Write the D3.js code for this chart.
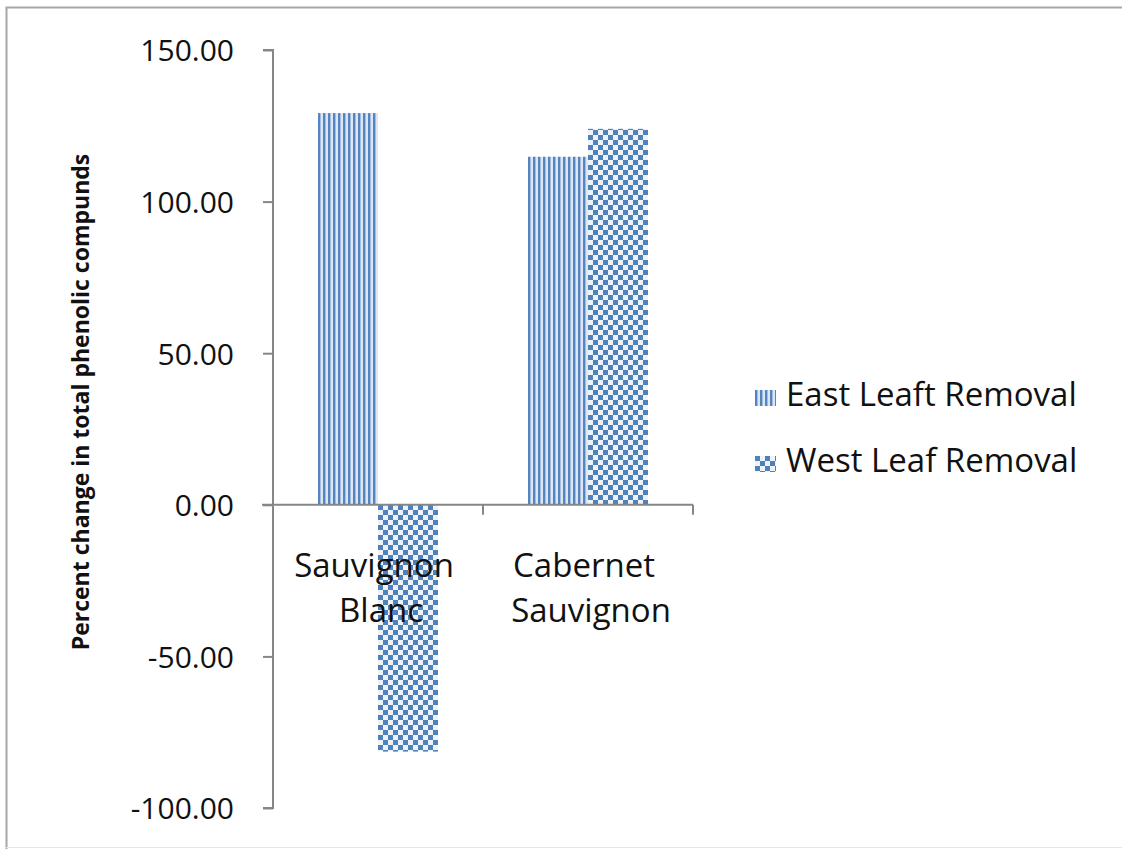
<!DOCTYPE html>
<html>
<head>
<meta charset="utf-8">
<script src="https://cdn.jsdelivr.net/npm/d3@7"></script>
<style>
  body { margin: 0; background: #fff; }
  svg text { font-family: "Open Sans", "Noto Sans", sans-serif; fill: #111; }
</style>
</head>
<body>
<div class="chartVis"></div>
<script>
// data
var categories = [["Sauvignon", "Blanc"], ["Cabernet", "Sauvignon"]];
var catKeys = ["Sauvignon Blanc", "Cabernet Sauvignon"];
var series = ["East Leaft Removal", "West Leaf Removal"];
var eastValues = [129.2, 114.8];
var westValues = [-81.4, 124.0];
var yTicks = [-100, -50, 0, 50, 100, 150];

var width = 1122, height = 849;

var rows = catKeys.map(function (k, i) {
  return { name: k, values: [eastValues[i], westValues[i]] };
});

var svg = d3.select(".chartVis")
  .append("svg")
  .attr("width", width)
  .attr("height", height);

// fill patterns
var defs = svg.append("defs");
var vert = defs.append("pattern")
  .attr("id", "vstripe")
  .attr("patternUnits", "userSpaceOnUse")
  .attr("width", 5).attr("height", 5);
vert.append("rect").attr("width", 5).attr("height", 5).attr("fill", "#dde7f3");
vert.append("rect").attr("x", 0).attr("width", 2).attr("height", 5).attr("fill", "#5585c0");
vert.append("rect").attr("x", 2).attr("width", 1).attr("height", 5).attr("fill", "#a3bde0");

var check = defs.append("pattern")
  .attr("id", "checker")
  .attr("patternUnits", "userSpaceOnUse")
  .attr("width", 10).attr("height", 10);
check.append("rect").attr("width", 10).attr("height", 10).attr("fill", "#eef3f9");
check.append("rect").attr("x", 0).attr("y", 0).attr("width", 5).attr("height", 5).attr("fill", "#4f81bd");
check.append("rect").attr("x", 5).attr("y", 5).attr("width", 5).attr("height", 5).attr("fill", "#4f81bd");

var fills = ["url(#vstripe)", "url(#checker)"];

// outer border (only top and left show, bottom is faint)
svg.append("path")
  .attr("d", "M6.5," + height + "V7.5H" + width)
  .attr("fill", "none")
  .attr("stroke", "#a6a6a6")
  .attr("stroke-width", 2);
svg.append("line")
  .attr("x1", 6).attr("x2", width)
  .attr("y1", 847.5).attr("y2", 847.5)
  .attr("stroke", "#e6e6e6");

var y = d3.scaleLinear()
  .domain([-100, 150])
  .range([808, 50]);

var x0 = d3.scaleBand()
  .domain(catKeys)
  .range([273, 693])
  .padding(0);

var x1 = d3.scaleBand()
  .domain(series)
  .range([0, x0.bandwidth()])
  .paddingInner(0)
  .paddingOuter(0.75);

// bars
var groups = svg.selectAll(".grp")
  .data(rows)
  .enter().append("g")
  .attr("class", "grp")
  .attr("transform", function (d) { return "translate(" + x0(d.name) + ",0)"; });

groups.selectAll("rect")
  .data(function (d) { return d.values.map(function (v, i) { return { key: series[i], v: v, i: i }; }); })
  .enter().append("rect")
  .attr("x", function (d) { return x1(d.key); })
  .attr("y", function (d) { return y(Math.max(0, d.v)); })
  .attr("width", x1.bandwidth())
  .attr("height", function (d) { return Math.abs(y(d.v) - y(0)); })
  .attr("fill", function (d) { return fills[d.i]; });

// y axis
var fmt = function (d) { return d3.format(".2f")(d).replace("\u2212", "-"); };
var yAxis = svg.append("g")
  .attr("transform", "translate(273,0)")
  .call(d3.axisLeft(y).tickValues(yTicks).tickSize(10).tickPadding(29)
    .tickFormat(fmt));
yAxis.select(".domain").attr("stroke", "#868686").attr("stroke-width", 2)
  .attr("d", "M-10," + y(150) + "H0V" + y(-100) + "H-10");
yAxis.selectAll(".tick line").attr("stroke", "#868686").attr("stroke-width", 2);
yAxis.selectAll(".tick text")
  .style("font-size", "30px")
  .attr("dy", "0.36em")
  .style("fill", "#111");

// x axis at zero
var xAxis = svg.append("g")
  .attr("transform", "translate(0," + y(0) + ")")
  .call(d3.axisBottom(x0).tickSize(0).tickFormat(""));
xAxis.select(".domain").attr("stroke", "#868686").attr("stroke-width", 2)
  .attr("d", "M262,0H" + x0.range()[1]);
xAxis.selectAll(".tick").remove();

// category dividers
xAxis.selectAll(".divider")
  .data(catKeys.slice(1).concat(["end"]))
  .enter().append("line")
  .attr("x1", function (d) { return d === "end" ? x0.range()[1] : x0(d); })
  .attr("x2", function (d) { return d === "end" ? x0.range()[1] : x0(d); })
  .attr("y1", 0).attr("y2", 10)
  .attr("stroke", "#868686").attr("stroke-width", 2);

// category labels
var labels = svg.selectAll(".catLabel")
  .data(categories)
  .enter().append("text")
  .attr("class", "catLabel")
  .attr("text-anchor", "middle")
  .style("font-size", "33px")
  .attr("transform", function (d, i) {
    return "translate(" + (x0(catKeys[i]) + x0.bandwidth() / 2) + "," + (y(0) + 72) + ")";
  });
labels.selectAll("tspan")
  .data(function (d) { return d; })
  .enter().append("tspan")
  .attr("x", function (d, i) { return i === 0 ? -4 : 3; })
  .attr("dy", function (d, i) { return i === 0 ? 0 : 45; })
  .text(function (d) { return d; });

// y title
svg.append("text")
  .attr("transform", "translate(89," + 402 + ") rotate(-90)")
  .attr("text-anchor", "middle")
  .style("font-size", "23px")
  .style("font-weight", "bold")
  .text("Percent change in total phenolic compunds");

// legend
var legend = svg.selectAll(".legend")
  .data(series)
  .enter().append("g")
  .attr("class", "legend")
  .attr("transform", function (d, i) { return "translate(755," + (390 + i * 66) + ")"; });
legend.append("rect")
  .attr("width", 21).attr("height", 16)
  .attr("fill", function (d, i) { return fills[i]; });
legend.append("text")
  .attr("x", 31).attr("y", 16)
  .style("font-size", "33px")
  .text(function (d) { return d; });
</script>
</body>
</html>
